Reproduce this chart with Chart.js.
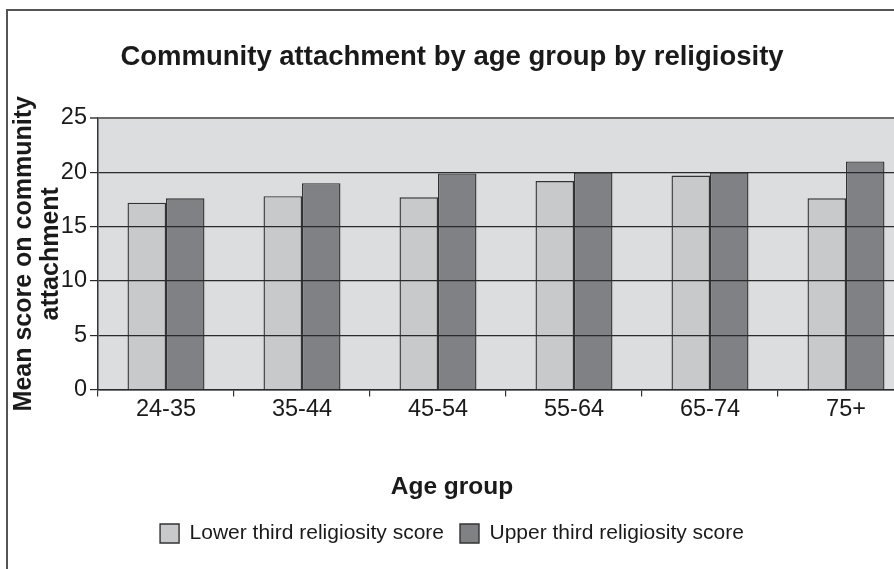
<!DOCTYPE html>
<html>
<head>
<meta charset="utf-8">
<script src="https://cdn.jsdelivr.net/npm/chart.js@4.4.0/dist/chart.umd.min.js"></script>
<style>
  html, body { margin: 0; padding: 0; background: #ffffff; }
  #wrap { position: relative; width: 894px; height: 569px; overflow: hidden; background: #ffffff; }
  #frame { position: absolute; left: 6px; top: 9px; width: 1000px; height: 700px;
           border-left: 2px solid #555; border-top: 2px solid #555; box-sizing: border-box; pointer-events: none; }
  #c { position: absolute; left: -10px; top: 0; }
</style>
</head>
<body>
<div id="wrap">
  <canvas id="c" width="940" height="569"></canvas>
  <div id="frame"></div>
</div>
<script>
const categories = ['24-35', '35-44', '45-54', '55-64', '65-74', '75+'];
const lowerThird = [17.2, 17.8, 17.7, 19.2, 19.7, 17.6];
const upperThird = [17.6, 19.0, 19.9, 20.0, 20.0, 21.0];
const seriesNames = ['Lower third religiosity score', 'Upper third religiosity score'];
const yTicks = [0, 5, 10, 15, 20, 25];

const FONT = "'Liberation Sans', Arial, Helvetica, sans-serif";

const plotBg = {
  id: 'plotBg',
  beforeDraw(chart) {
    const { ctx, chartArea: a } = chart;
    ctx.save();
    ctx.fillStyle = '#dcdddf';
    ctx.fillRect(a.left, a.top, a.right - a.left, a.bottom - a.top);
    ctx.restore();
  }
};

new Chart(document.getElementById('c'), {
  type: 'bar',
  data: {
    labels: categories,
    datasets: [
      { label: seriesNames[0], data: lowerThird, backgroundColor: '#c8c9cb', borderColor: '#333333', borderWidth: 1.4 },
      { label: seriesNames[1], data: upperThird, backgroundColor: '#808184', borderColor: '#333333', borderWidth: 1.4 }
    ]
  },
  options: {
    responsive: false,
    animation: false,
    devicePixelRatio: 1,
    layout: { padding: { left: 0, right: 16, top: 0, bottom: 15 } },
    datasets: { bar: { barPercentage: 1.0, categoryPercentage: 0.566 } },
    plugins: {
      tooltip: { enabled: false },
      title: {
        display: true,
        text: 'Community attachment by age group by religiosity',
        color: '#1a1a1a',
        font: { family: FONT, size: 27.5, weight: 'bold', lineHeight: 1.2 },
        padding: { top: 40.5, bottom: 44.5 }
      },
      subtitle: {
        display: true,
        position: 'bottom',
        text: 'Age group',
        color: '#1a1a1a',
        font: { family: FONT, size: 24.5, weight: 'bold', lineHeight: 1.2 },
        padding: { top: 43.3, bottom: 4.8 }
      },
      legend: {
        display: true,
        position: 'bottom',
        weight: 3000,
        labels: {
          color: '#1a1a1a',
          font: { family: FONT, size: 21 },
          boxWidth: 19,
          boxHeight: 19,
          padding: 16
        }
      }
    },
    scales: {
      x: {
        type: 'category',
        offset: true,
        afterFit(scale) { scale.height = 40; },
        grid: { display: true, offset: true, drawOnChartArea: false, drawTicks: true, tickLength: 7, color: '#333', lineWidth: 1.2 },
        border: { display: true, color: '#222', width: 1.5 },
        ticks: { color: '#1a1a1a', font: { family: FONT, size: 23.5 }, padding: -1, maxRotation: 0 }
      },
      y: {
        min: 0,
        max: 25,
        afterFit(scale) { scale.width = 108; },
        afterBuildTicks(scale) { scale.ticks = yTicks.map(v => ({ value: v })); },
        grid: {
          z: 1,
          color: (c) => (c.tick && c.tick.value === 25 ? '#6d6d6d' : '#2a2a2a'),
          lineWidth: (c) => (c.tick && c.tick.value === 25 ? 2 : 1.2),
          drawTicks: true,
          tickLength: 8
        },
        border: { display: true, color: '#333', width: 1.5, z: 1 },
        ticks: { color: '#1a1a1a', font: { family: FONT, size: 23.5 }, padding: 3 },
        title: {
          display: true,
          text: ['Mean score on community', 'attachment'],
          color: '#1a1a1a',
          font: { family: FONT, size: 25, weight: 'bold', lineHeight: 1.1 },
          padding: { top: 20, bottom: 0 }
        }
      }
    }
  },
  plugins: [plotBg]
});
</script>
</body>
</html>
